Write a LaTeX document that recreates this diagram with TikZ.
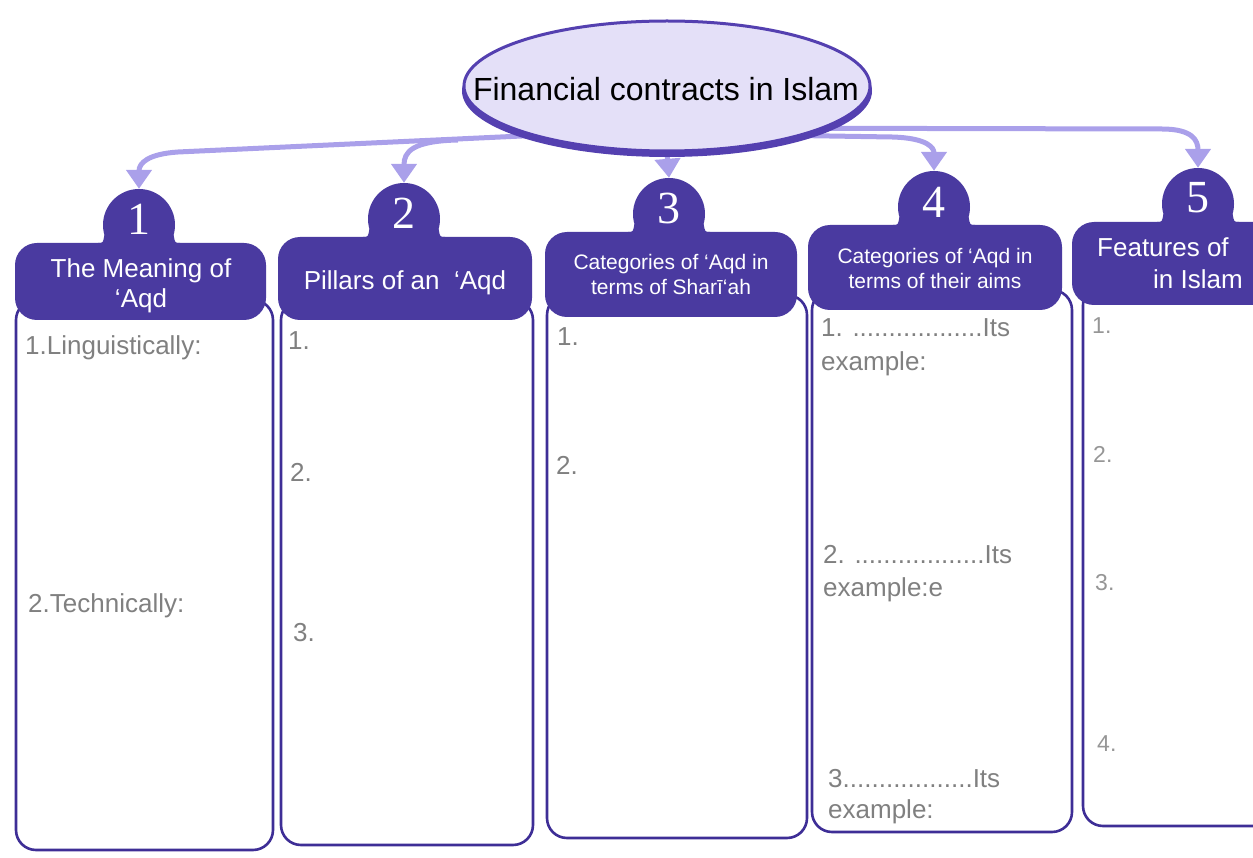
\documentclass[tikz,border=0pt]{standalone}
\usepackage{fontspec}
\setmainfont{Liberation Sans}
\newfontfamily\numfont{Liberation Serif}
\usetikzlibrary{shapes.geometric,arrows.meta,backgrounds}

\definecolor{hdrpurple}{RGB}{74,58,160}
\definecolor{edgepurple}{RGB}{62,46,150}
\definecolor{ovalfill}{RGB}{228,224,248}
\definecolor{ovaledge}{RGB}{84,64,176}
\definecolor{linkcol}{RGB}{170,160,234}
\definecolor{itemgray}{RGB}{128,128,128}
\definecolor{itemlight}{RGB}{150,150,150}

\tikzset{
  hdr/.style={fill=hdrpurple, rounded corners=22pt, inner sep=0pt},
  hdrtext/.style={text=white, align=center, inner sep=0pt,
    font=\fontsize{26}{30}\selectfont},
  hdrsmall/.style={hdrtext, font=\fontsize{21}{25}\selectfont},
  badge/.style={circle, fill=hdrpurple, minimum size=72pt, inner sep=0pt},
  digit/.style={text=white, inner sep=0pt, font=\numfont\fontsize{46}{46}\selectfont},
  bodybox/.style={draw=edgepurple, line width=2.6pt, fill=white,
    rounded corners=20pt, inner sep=0pt},
  item/.style={anchor=base west, text=itemgray, inner sep=0pt,
    font=\fontsize{26}{34}\selectfont},
  smallitem/.style={item, text=itemlight, font=\fontsize{23}{27}\selectfont},
  conn/.style={draw=linkcol, line width=5pt, -{Triangle[width=25pt,length=19pt]}},
}

% concave fillets joining a number badge to the top of its header
\newcommand\badgefillets[2]{%
  \fill[hdrpurple] (#1-41,#2+3) -- (#1-41,#2) .. controls (#1-36,#2) .. (#1-34.6,#2-8) -- (#1,#2) -- cycle;
  \fill[hdrpurple] (#1+41,#2+3) -- (#1+41,#2) .. controls (#1+36,#2) .. (#1+34.6,#2-8) -- (#1,#2) -- cycle;
}

\begin{document}
\begin{tikzpicture}[x=1pt,y=-1pt]
\useasboundingbox (0,0) rectangle (1253,858);
\clip (0,0) rectangle (1253,858);

% title oval with its heavier lower rim
\fill[ovaledge] (667,91) ellipse [x radius=205, y radius=66];
\node (title) [ellipse, fill=ovalfill, draw=ovaledge, line width=3pt,
  minimum width=406pt, minimum height=130pt, inner sep=0pt] at (667,86) {};
\node (titletext) [anchor=base, inner sep=0pt, font=\fontsize{32}{36}\selectfont]
  at (666,101) {Financial contracts in Islam};

% answer boxes
\node (b1) [bodybox, minimum width=257pt, minimum height=550pt] at (144.5,575) {};
\node (b2) [bodybox, minimum width=252pt, minimum height=545pt] at (407,572.5) {};
\node (b3) [bodybox, minimum width=260pt, minimum height=543pt] at (677,566.5) {};
\node (b4) [bodybox, minimum width=260pt, minimum height=542pt] at (942,561) {};
\node (b5) [bodybox, minimum width=217pt, minimum height=541pt] at (1191.5,555.5) {};

% number badges
\node (n1) [badge] at (139,225) {};
\node (n2) [badge] at (404,219) {};
\node (n3) [badge] at (669,214) {};
\node (n4) [badge] at (934,207) {};
\node (n5) [badge] at (1198,204) {};
\badgefillets{139}{243}
\badgefillets{404}{237}
\badgefillets{669}{232}
\badgefillets{934}{225}
\badgefillets{1198}{222}

% headers
\node (h1) [hdr, minimum width=251pt, minimum height=77pt] at (140.5,281.5) {};
\node (h2) [hdr, minimum width=254pt, minimum height=83pt] at (405,278.5) {};
\node (h3) [hdr, minimum width=252pt, minimum height=85pt] at (671,274.5) {};
\node (h4) [hdr, minimum width=254pt, minimum height=85pt] at (935,267.5) {};
\node (h5) [hdr, minimum width=228pt, minimum height=83pt] at (1186,263.5) {};

\node (h1text) [hdrtext] at (141,286) {The Meaning of\\‘Aqd};
\node (h2text) [hdrtext] at (405,283) {Pillars of an ~‘Aqd};
\node (h3text) [hdrsmall] at (671,274.5) {Categories of ‘Aqd in\\terms of Sharī‘ah};
\node (h4text) [hdrsmall] at (935,268.5) {Categories of ‘Aqd in\\terms of their aims};
\node (h5text) [hdrtext, align=left, anchor=west, font=\fontsize{26}{32}\selectfont]
  at (1097,263) {Features of\\\hspace*{56pt}in Islam};

% badge numbers
\node (d1) [digit] at (139,219) {1};
\node (d2) [digit] at (404,213) {2};
\node (d3) [digit] at (669,208) {3};
\node (d4) [digit] at (934,202) {4};
\node (d5) [digit] at (1198,198) {5};

% box contents
\node (i11) [item] at (25,355) {1.Linguistically:};
\node (i12) [item] at (28,612) {2.Technically:};
\node (i21) [item] at (288,350) {1.};
\node (i22) [item] at (290,481) {2.};
\node (i23) [item] at (293,641) {3.};
\node (i31) [item] at (557,346) {1.};
\node (i32) [item] at (556,474) {2.};
\node (i41) [item] at (821,337) {1. ..................Its};
\node (i41e) [item] at (821,371) {example:};
\node (i42) [item] at (823,563) {2. ..................Its};
\node (i42e) [item] at (823,596) {example:e};
\node (i43) [item] at (828,787) {3..................Its};
\node (i43e) [item] at (828,818) {example:};
\node (i51) [smallitem] at (1092,334) {1.};
\node (i52) [smallitem] at (1093,462) {2.};
\node (i53) [smallitem] at (1095,590) {3.};
\node (i54) [smallitem] at (1097,751) {4.};

% branches from the title to the badges
\coordinate (j1) at (178,152);
\coordinate (j2) at (458,140);
\coordinate (j4) at (892,137);
\coordinate (j5) at (1162,129);
\begin{pgfonlayer}{background}
  \draw[conn] (title.200) -- (j1) .. controls (148,154) and (139,163) .. (n1.north);
  \draw[conn] (j2) .. controls (412,141) and (404,152) .. (n2.north);
  \draw[conn] (title.south) -- (n3.north);
  \draw[conn] (title.-20) -- (j4) .. controls (928,138) and (934,148) .. (n4.north);
  \draw[conn] (title.-15) -- (j5) .. controls (1192,129) and (1198,140) .. (n5.north);
\end{pgfonlayer}
\end{tikzpicture}
\end{document}
